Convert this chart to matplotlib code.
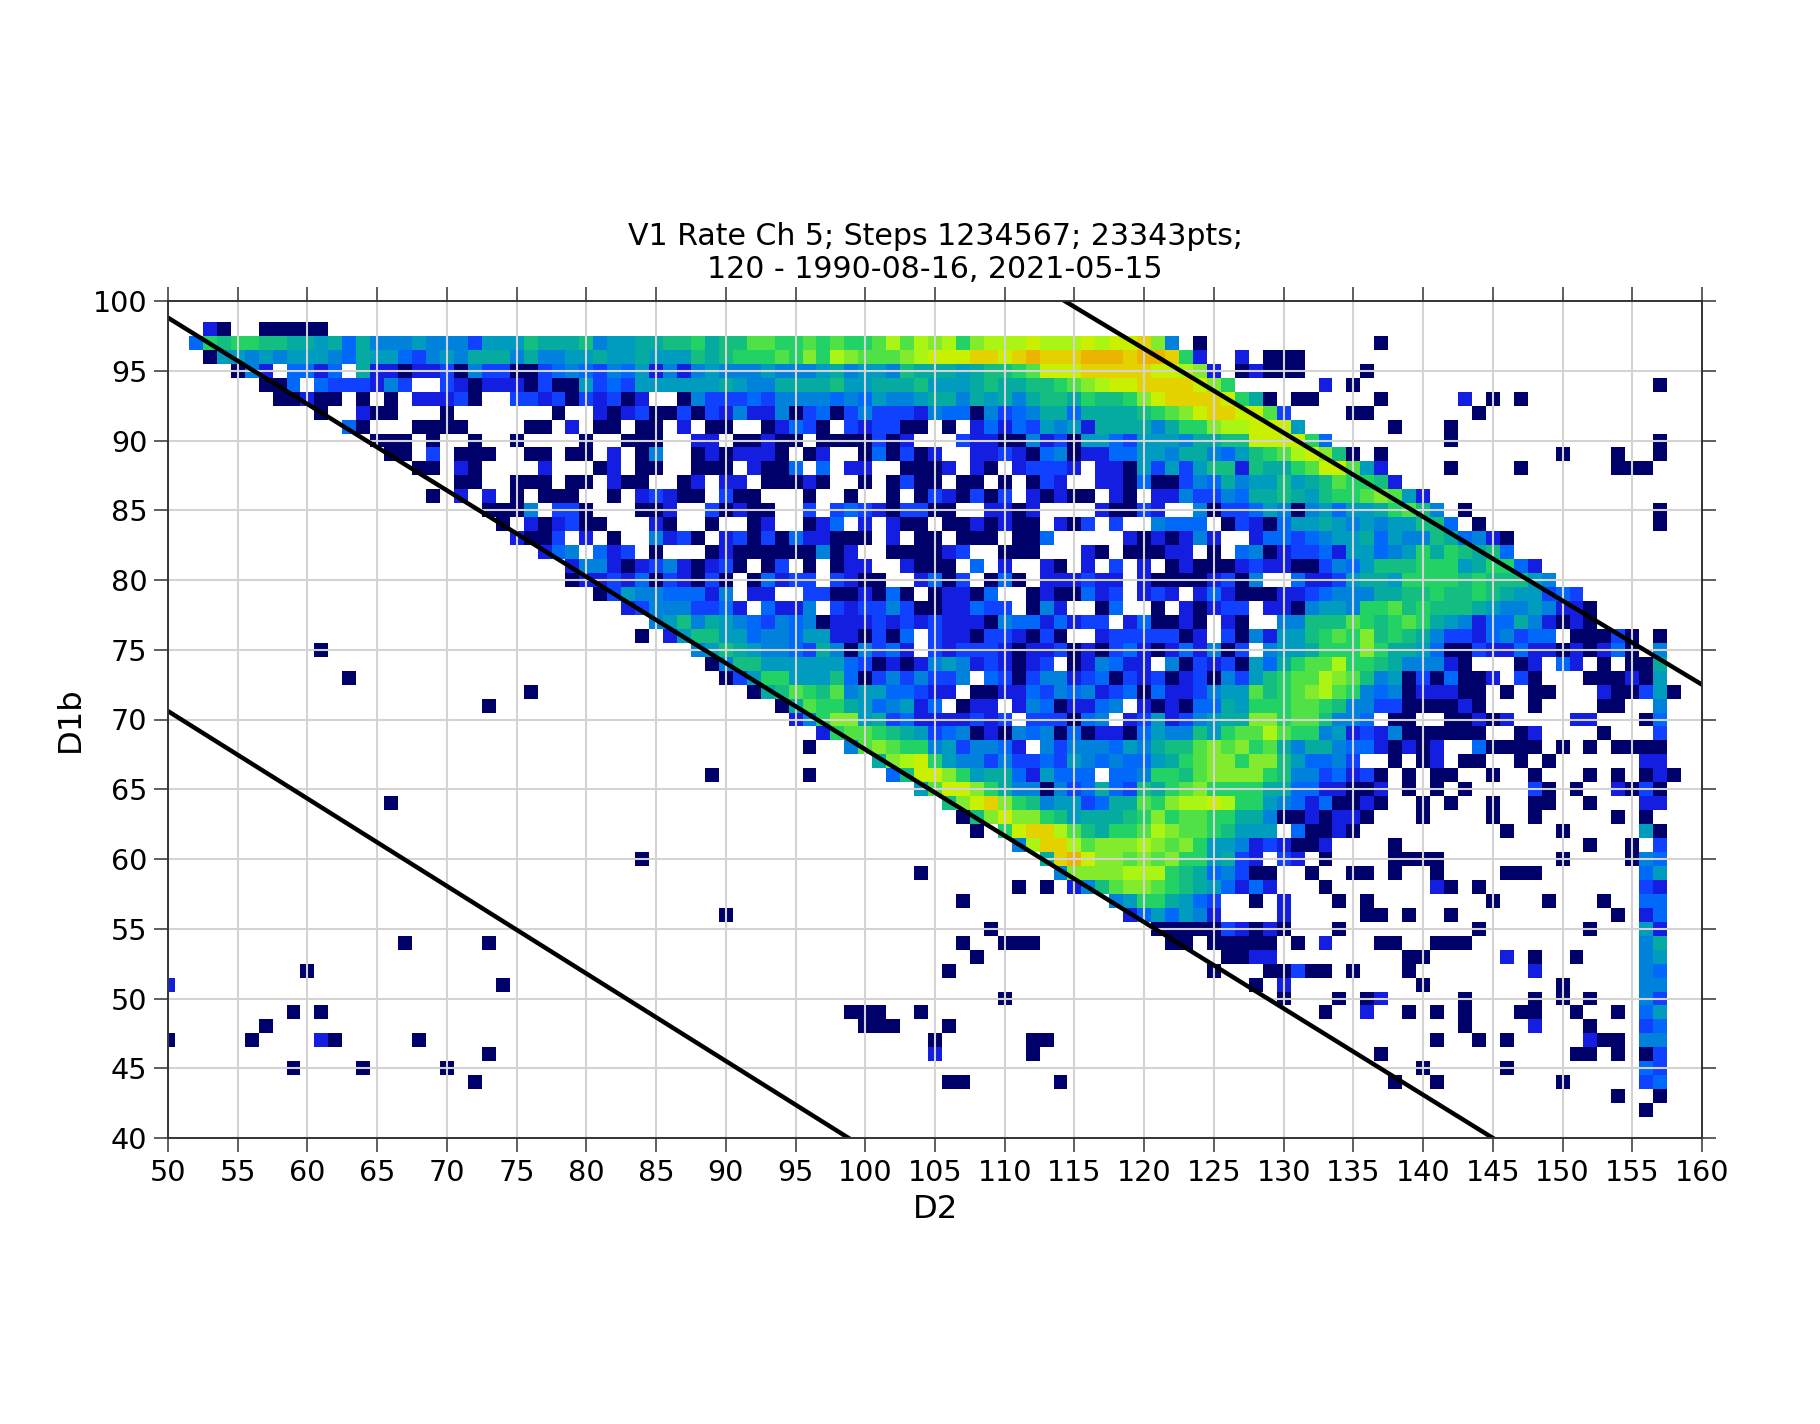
import numpy as np
import matplotlib
matplotlib.use("Agg")
import matplotlib.pyplot as plt
from matplotlib.colors import ListedColormap, BoundaryNorm

# each row of D1b: (first D2 of the run, one level per cell, "." = no data)
row_98 = [(53, "10..00000")]
row_97 = [(52, "38788776656364445444255576"), (78, "667455667786779988989889b9ba"), (106, "b8abbbcbbbcbccda4.0"), (137, "0")]
row_96 = [(53, "0554545554365532454666464"), (78, "4556556555"), (88, "76788898a8"), (98, "ba999abc"), (106, "ccddcdeddd"), (116, "eeedeed81."), (126, ".1.000")]
row_95 = [(55, "041.3313.61101120422002"), (78, "3432435141"), (88, "4544454445"), (98, "64554766"), (106, "6567789ccc"), (116, "dddddccba1"), (126, ".01000"), (136, "0")]
row_94 = [(57, "003.3222142..21011102"), (78, "0052325555"), (88, "5565446666"), (98, "75566675"), (106, "5567667789"), (116, "abccddddca8"), (133, "1.0"), (157, "0")]
row_93 = [(58, "00100.0.0.11120..221"), (78, "2021201..0"), (88, "4222324444"), (98, "34354456"), (106, "6465646776"), (116, "8778acdddd"), (126, "c860.00"), (137, "0.....1.0.0")]
row_92 = [(61, "0..100...0"), (78, "0..1012002"), (88, "0214114023"), (98, "02422214"), (106, "3304234663"), (116, "6666789acd"), (126, "dcc92"), (135, "00.......0")]
row_91 = [(63, "30...0000....00"), (78, ".1.00.00.1"), (88, ".00..01320"), (98, ".212200."), (106, "0.13132545"), (116, "166664688a"), (126, "bbccc5"), (138, "0...0")]
row_90 = [(65, "000.0..0..0"), (78, "..0..000.."), (88, "11.00100.0"), (98, "000201.."), (106, ".211004120"), (116, "5532555466"), (126, "77cccc8"), (133, "3........0"), (157, "0")]
row_89 = [(66, "00.2.000..00"), (78, ".00.1.04.."), (88, "0101110.01"), (98, "..030201"), (106, "..11210340"), (116, "1133554664"), (126, "35789bc"), (133, "a70.0"), (150, "0...0..0")]
row_88 = [(68, "00.10....1"), (78, "...01.00.."), (88, "000.1003.3"), (98, ".11..000"), (106, "1.10.12221"), (116, ".110525257"), (126, "7176689"), (133, "cc951"), (142, "0....0......000")]
row_87 = [(71, "00..000"), (78, ".00.100..0"), (88, "1.11.00010"), (98, "..0.0200"), (106, ".00.0.021."), (116, ".110300243"), (126, "6455756"), (133, "798871")]
row_86 = [(69, "0.1.1.0.0"), (78, "00..0.1210"), (88, "0.200...0."), (98, ".0..0.02"), (106, "10202.1010"), (116, "0.10.11422"), (126, "4366765"), (133, "7889a951")]
row_85 = [(73, "0004."), (78, "220...001."), (88, ".20100..2."), (98, "23210220"), (106, "0..1101..."), (116, ".10021..40"), (126, "2235404"), (133, "535568974.0"), (157, "0")]
row_84 = [(74, "0.10"), (78, "1200...10."), (88, ".0..01..01"), (98, "3.1.100."), (106, "0010100.10"), (116, "2.2..4333."), (126, "0210355"), (133, "6545455773.0"), (157, "0")]
row_83 = [(75, "100"), (78, "2.1.0..412"), (88, "0.12020311"), (98, "000.1.00"), (106, ".000.003.."), (116, "...1010141"), (126, "..13323"), (133, "45563544763410")]
row_82 = [(77, "1"), (78, "34.312.0.."), (88, ".010000004"), (98, "01..0000"), (106, "12..000..."), (116, "10.00011.0"), (126, ".340122"), (133, "31553458687673")]
row_81 = [(79, "144101241"), (88, "0120.02.0."), (98, "011..100"), (106, "0.3.1..10."), (116, "1.2.1.0100"), (126, "0121100"), (133, "2435777888568831")]
row_80 = [(79, "011213021"), (88, "020.03122."), (98, "2100..13"), (106, "02.030.111"), (116, "211.100001"), (126, "204..31"), (133, "12566588887877754")]
row_79 = [(81, "0254433"), (88, "314.11..22"), (98, "001030.0"), (106, "1103..0100"), (116, "312.121.13"), (126, "1000112"), (133, "3444667787787655232")]
row_78 = [(83, "12444"), (88, "2231.3114."), (98, "21224200"), (106, "11322.041."), (116, ".03..0.101"), (126, "22.1104"), (133, "55488978777654454110")]
row_77 = [(85, "457"), (88, "4654324340"), (98, "11121212"), (106, "1110433131"), (116, "22.130010."), (126, "10..447"), (133, "7798789865"), (143, "4133641010")]
row_76 = [(84, "0.15"), (88, "7755344355"), (98, "110203.2"), (106, "110221020."), (116, ".12222201."), (126, "2041557"), (133, "898a787642"), (143, "2134233.00"), (153, "020.0")]
row_75 = [(61, "0"), (88, "4576544326"), (98, "404231.2"), (106, "1222101120"), (116, "1023101314"), (126, "02.4556"), (133, "888a866530"), (143, "0211311010"), (153, "130.4")]
row_74 = [(89, "0477555555"), (99, "3201014"), (106, "54121012.0"), (116, "14311.4021"), (126, "2053689"), (133, "9b88764441"), (143, "0...01.31."), (153, "0.006")]
row_73 = [(63, "0"), (90, "0258855573"), (100, "024242"), (106, "24.3202441"), (116, "2302120120"), (126, "4257899"), (133, "ba97450203"), (143, "001.20...0"), (153, "00105")]
row_72 = [(76, "0"), (92, "06798794553321"), (106, "1.00113243"), (116, "4123031124"), (126, "559789a"), (133, "b984340111"), (143, "00.0.00..."), (153, "100250")]
row_71 = [(73, "0"), (94, "069886534513"), (106, ".011.14301"), (116, "134.101033"), (126, "6588899"), (133, "8744220000"), (143, "10...0...."), (153, "00..4")]
row_70 = [(95, "148aa562311"), (106, "11212.2220"), (116, "34.1251245"), (126, "66aa899"), (133, "7443.00..0"), (143, "0101....11"), (153, "...03")]
row_69 = [(97, "189987652"), (106, "3401043403"), (116, "0110354475"), (126, "899b988"), (133, "4512140000"), (143, "00..01...."), (153, "0...2")]
row_68 = [(96, "0..49a9884"), (106, "524431.424"), (116, "443546779a"), (126, "9a89646"), (133, "643310101."), (143, ".30000.0.0"), (153, ".0000")]
row_67 = [(101, "6abc8"), (106, "5442422325"), (116, "434335689a"), (126, "a8aa753"), (133, "342..0.01."), (143, "00..0.0..."), (153, "...11")]
row_66 = [(89, "0"), (96, "0"), (102, "37cca"), (106, "a856631533"), (116, "3.3348879a"), (126, "aaa8744"), (133, "23120.0.00"), (143, "..0..0...0"), (153, ".0.010")]
row_65 = [(104, "59"), (106, "cca8644042"), (116, "36327689a8"), (126, "8886633"), (133, "11001.0.0."), (143, "0....20.0."), (153, ".1020")]
row_64 = [(66, "0"), (106, "7acda87455"), (116, "236698abbc"), (126, "b885431"), (133, "30010..0.0"), (143, "..0..00..0"), (153, "...11")]
row_63 = [(107, "07acaa8756"), (117, "6678a89988"), (127, "664001"), (133, "0110...0....0..0.....0.0")]
row_62 = [(108, "0.8cddb97"), (117, "6889ba9987"), (127, "555.30"), (133, "010..........0...0.....50")]
row_61 = [(111, "4bddb9"), (117, "aaaba9a855"), (127, "412100"), (133, "1....0.............0..0.2")]
row_60 = [(84, "0"), (113, "6decaa9a9a"), (123, "885621.21."), (133, "0....0000........0....043")]
row_59 = [(104, "0"), (114, "4aaaabbb87"), (124, "634200..0"), (135, "00.0..0....000.......35")]
row_58 = [(111, "0.0.1479aa987653131"), (133, "0.......10.0...........21")]
row_57 = [(107, "0"), (118, "45886532..0.1"), (134, "0.0........0...0...0..33")]
row_56 = [(90, "0"), (119, "1353541....1"), (136, "00.0..0...........0.13")]
row_55 = [(109, "0"), (121, "0000021010"), (134, "0.........0.......0...51")]
row_54 = [(67, "0"), (73, "0"), (107, "0"), (110, "000"), (122, "00.00000.0.1"), (137, "00..000............46")]
row_53 = [(108, "0"), (126, "0011"), (139, "00.....1.0..0....45")]
row_52 = [(60, "0"), (106, "0"), (125, "0"), (129, "00200.0...0........1.......43")]
row_51 = [(50, "1"), (74, "0"), (128, "0.1"), (140, "0.........0.....44")]
row_50 = [(110, "0"), (130, "0"), (134, "0.01"), (143, "0"), (148, "0.0.0"), (156, "42")]
row_49 = [(59, "0.0"), (99, "000..0"), (133, "0..1..0.0.0...00..0..0.35")]
row_48 = [(57, "0"), (100, "000...0"), (143, "0....1...0...23")]
row_47 = [(50, "0"), (56, "0....10"), (68, "0"), (105, "0"), (112, "00"), (141, "0..0.0.....100.44")]
row_46 = [(73, "0"), (105, "1"), (112, "0"), (137, "0"), (151, "00.0.02")]
row_45 = [(59, "0"), (64, "0"), (70, "0"), (140, "0.....0.........32")]
row_44 = [(72, "0"), (106, "00"), (114, "0"), (138, "0..0........0.....23")]
row_43 = [(154, "0..0")]
row_42 = [(156, "0")]

d1b_values = list(range(98, 41, -1))
all_rows = [row_98, row_97, row_96, row_95, row_94, row_93, row_92, row_91, row_90, row_89,
            row_88, row_87, row_86, row_85, row_84, row_83, row_82, row_81, row_80, row_79,
            row_78, row_77, row_76, row_75, row_74, row_73, row_72, row_71, row_70, row_69,
            row_68, row_67, row_66, row_65, row_64, row_63, row_62, row_61, row_60, row_59,
            row_58, row_57, row_56, row_55, row_54, row_53, row_52, row_51, row_50, row_49,
            row_48, row_47, row_46, row_45, row_44, row_43, row_42]
d2_values = np.arange(50, 159)

level_colors = ["#00006a", "#141ee1", "#0f41ff", "#0069fa", "#0082dc", "#009cc0",
                "#05aaa0", "#14be80", "#23d264", "#50e146", "#82eb2d", "#aaf514",
                "#c8f000", "#e4d200", "#ebb400"]

# D2, D1b end points of the three band limits
line_a_d2 = [50, 145]
line_a_d1b = [98.8, 40]
line_b_d2 = [114.3, 160]
line_b_d1b = [100, 72.5]
line_c_d2 = [50, 98.8]
line_c_d1b = [70.6, 40]

grid = np.full((len(d1b_values), len(d2_values)), np.nan)
for i, segs in enumerate(all_rows):
    for start, cells in segs:
        for k, ch in enumerate(cells):
            if ch != ".":
                grid[i, start - 50 + k] = int(ch, 16)

cmap = ListedColormap(level_colors)
cmap.set_bad("white")
norm = BoundaryNorm(np.arange(-0.5, 15.5), cmap.N)

fig = plt.figure(figsize=(9.1, 7.12), dpi=200)
ax = fig.add_axes([168 / 1820, 1 - 1138 / 1424, (1702 - 168) / 1820, (1138 - 301) / 1424])

ax.pcolormesh(d2_values, d1b_values, np.ma.masked_invalid(grid), cmap=cmap, norm=norm, shading="nearest")
ax.plot(line_a_d2, line_a_d1b, color="black", lw=1.6)
ax.plot(line_b_d2, line_b_d1b, color="black", lw=1.6)
ax.plot(line_c_d2, line_c_d1b, color="black", lw=1.6)

ax.set_xlim(50, 160)
ax.set_ylim(40, 100)
ax.set_xticks(np.arange(50, 161, 5))
ax.set_yticks(np.arange(40, 101, 5))
ax.grid(True, color="lightgrey", lw=0.75)
ax.tick_params(axis="both", which="major", direction="out", top=True, right=True,
               length=5, width=0.55, color="#333333", labelsize=10.3, pad=2.5)
for s in ax.spines.values():
    s.set_linewidth(0.7)
    s.set_color("#333333")

ax.set_xlabel("D2", fontsize=11.6, labelpad=2.7)
ax.set_ylabel("D1b", fontsize=11.6, labelpad=2.5)
ax.set_title("V1 Rate Ch 5; Steps 1234567; 23343pts;\n120 - 1990-08-16, 2021-05-15", fontsize=10.8, pad=8.2)

fig.savefig("out.png", dpi=200)
